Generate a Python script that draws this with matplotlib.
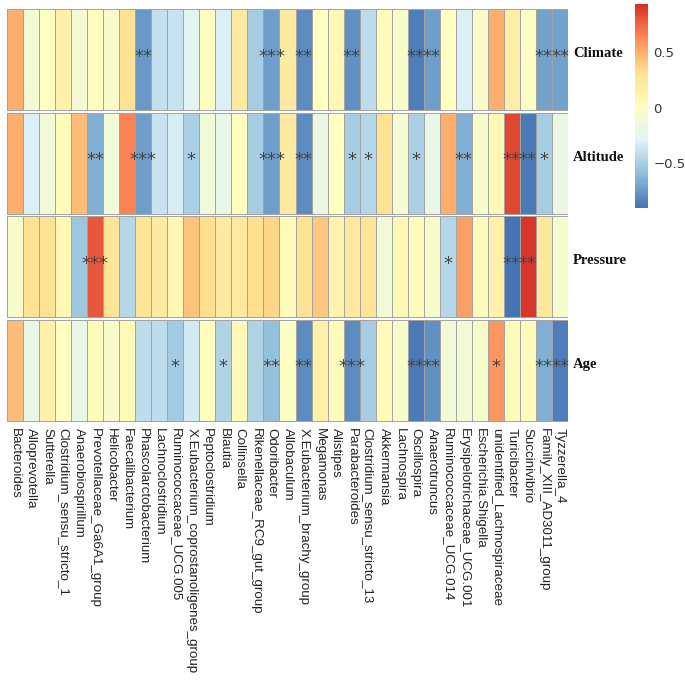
import numpy as np
import matplotlib
matplotlib.use("Agg")
import matplotlib.pyplot as plt
from matplotlib.colors import LinearSegmentedColormap, Normalize
from matplotlib.cm import ScalarMappable

# genera (columns) and factors (rows)
genera = ["Bacteroides", "Alloprevotella", "Sutterella", "Clostridium_sensu_stricto_1",
          "Anaerobiospirillum", "Prevotellaceae_Ga6A1_group", "Helicobacter", "Faecalibacterium",
          "Phascolarctobacterium", "Lachnoclostridium", "Ruminococcaceae_UCG.005",
          "X.Eubacterium_coprostanoligenes_group", "Peptoclostridium", "Blautia", "Collinsella",
          "Rikenellaceae_RC9_gut_group", "Odoribacter", "Allobaculum", "X.Eubacterium_brachy_group",
          "Megamonas", "Alistipes", "Parabacteroides", "Clostridium_sensu_stricto_13", "Akkermansia",
          "Lachnospira", "Oscillospira", "Anaerotruncus", "Ruminococcaceae_UCG.014",
          "Erysipelotrichaceae_UCG.001", "Escherichia.Shigella", "unidentified_Lachnospiraceae",
          "Turicibacter", "Succinivibrio", "Family_XIII_AD3011_group", "Tyzzerella_4"]
factors = ["Climate", "Altitude", "Pressure", "Age"]

# correlation values
climate = [0.5, -0.1, 0.0, 0.15, -0.1, 0.03, -0.05, 0.3, -0.75, -0.4, -0.38, -0.25,
           0.02, -0.3, 0.2, -0.5, -0.72, 0.2, -0.8, 0.01, 0.08, -0.78, -0.42, 0.05,
           -0.05, -0.85, -0.72, 0.0, -0.3, -0.05, 0.5, 0.18, -0.02, -0.7, -0.7]
altitude = [0.5, -0.3, -0.12, 0.05, 0.45, -0.65, -0.12, 0.65, -0.72, -0.38, -0.33, -0.48,
            -0.12, -0.2, 0.03, -0.5, -0.73, 0.2, -0.8, -0.18, 0.0, -0.5, -0.45, 0.3,
            -0.08, -0.48, -0.2, 0.5, -0.65, -0.05, 0.08, 0.85, -0.88, -0.5, -0.18]
pressure = [-0.05, 0.3, 0.3, 0.08, -0.55, 0.8, 0.28, -0.45, 0.28, 0.2, 0.1, 0.42,
            0.32, 0.2, 0.22, 0.32, 0.35, 0.05, 0.3, 0.4, 0.13, 0.22, 0.28, -0.12,
            0.1, 0.05, -0.05, -0.45, 0.55, 0.05, 0.15, -0.9, 0.9, 0.25, -0.07]
age = [0.45, -0.2, 0.15, 0.0, -0.2, 0.05, -0.05, 0.06, -0.42, -0.42, -0.52, -0.35,
       0.02, -0.47, 0.06, -0.47, -0.58, -0.01, -0.8, 0.15, 0.04, -0.8, -0.5, 0.05,
       -0.05, -0.87, -0.78, -0.12, -0.1, -0.05, 0.6, 0.04, 0.05, -0.65, -0.85]

# significance marks
sig_climate = [""] * 35
for i, s in {8: "**", 16: "***", 18: "**", 21: "**", 25: "**", 26: "**", 33: "**", 34: "**"}.items():
    sig_climate[i] = s
sig_altitude = [""] * 35
for i, s in {5: "**", 8: "***", 11: "*", 16: "***", 18: "**", 21: "*", 22: "*", 25: "*",
             28: "**", 31: "**", 32: "**", 33: "*"}.items():
    sig_altitude[i] = s
sig_pressure = [""] * 35
for i, s in {5: "***", 27: "*", 31: "**", 32: "**"}.items():
    sig_pressure[i] = s
sig_age = [""] * 35
for i, s in {10: "*", 13: "*", 16: "**", 18: "**", 21: "***", 25: "**", 26: "**", 30: "*",
             33: "**", 34: "**"}.items():
    sig_age[i] = s

vals = np.array([climate, altitude, pressure, age])
sigs = [sig_climate, sig_altitude, sig_pressure, sig_age]

# pheatmap default palette: rev(RdYlBu, 7) -> 100 colours
pal = ["#4575B4", "#91BFDB", "#E0F3F8", "#FFFFBF", "#FEE090", "#FC8D59", "#D73027"]
cmap = LinearSegmentedColormap.from_list("rdylbu_r", pal, N=100)
norm = Normalize(vmin=-0.9, vmax=0.93)

W, H = 685, 686
fig = plt.figure(figsize=(W / 100, H / 100), dpi=100)
ax = fig.add_axes([7 / W, 1 - 422 / H, 561 / W, 414 / H])

xe = np.arange(len(genera) + 1)
for r in range(len(factors)):
    ax.pcolormesh(xe, [r + 0.01, r + 0.99], vals[r:r + 1], cmap=cmap, norm=norm,
                  edgecolors="#a3a3a3", linewidth=0.7)
    for c, s in enumerate(sigs[r]):
        if s:
            ax.text(c + 0.5, r + 0.47, s, ha="center", va="center", fontsize=13,
                    color="#444444")
    ax.text(len(genera) + 0.3, r + 0.44, factors[r], ha="left", va="center",
            fontsize=10.5, fontweight="bold", family="Liberation Serif", color="#111111")

ax.set_xlim(0, len(genera))
ax.set_ylim(len(factors), 0)
ax.set_yticks([])
ax.set_xticks(np.arange(len(genera)) + 0.5)
ax.set_xticklabels(genera, rotation=270, fontsize=9.6, family="Liberation Sans", color="#222222")
ax.tick_params(axis="x", length=0, pad=4)
for sp in ax.spines.values():
    sp.set_visible(False)

# colour legend
cax = fig.add_axes([635 / W, 1 - 208 / H, 13 / W, 204 / H])
cb = fig.colorbar(ScalarMappable(norm=norm, cmap=cmap), cax=cax, ticks=[-0.5, 0, 0.5])
cb.outline.set_visible(False)
cb.ax.set_yticklabels(["\u22120.5", "0", "0.5"])
cax.tick_params(length=0, labelsize=9.5, pad=4, labelcolor="#333333")

fig.savefig("out.png", dpi=100)
